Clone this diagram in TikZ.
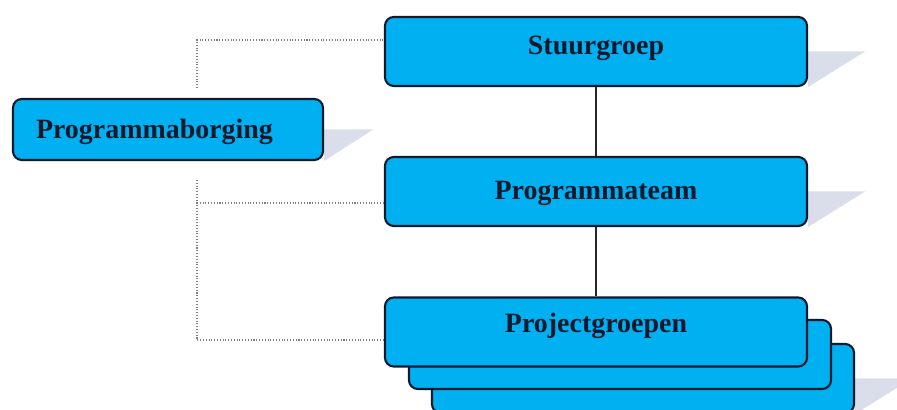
\documentclass[tikz,border=0pt]{standalone}
\usepackage{fontspec}
\setmainfont{Liberation Serif}
\usetikzlibrary{backgrounds}

\definecolor{boxblue}{RGB}{0,176,240}
\definecolor{boxline}{RGB}{15,25,45}
\definecolor{shadowgray}{RGB}{218,222,234}

\tikzset{
  orgbox/.style={draw=boxline, line width=1.2pt, fill=boxblue, rounded corners=5pt,
    minimum width=8.44cm, minimum height=1.38cm, text height=0.37cm,
    font=\fontsize{15.9}{18}\selectfont\bfseries, text=boxline},
  dotline/.style={gray, densely dotted, line width=0.6pt},
  solidline/.style={draw=gray!30!black, line width=1pt},
}

\begin{document}
\begin{tikzpicture}
    \useasboundingbox (0,0) rectangle (17.94,8.2);

    % Boxes
    \node[orgbox, text depth=0.26cm] (stuur) at (11.92,7.17) {Stuurgroep};
    \node[orgbox, text depth=0.04cm] (team) at (11.92,4.37) {Programmateam};
    \node[orgbox] (proj3) at (12.86,0.63) {};
    \node[orgbox] (proj2) at (12.40,1.11) {};
    \node[orgbox, text depth=0.36cm] (proj) at (11.92,1.56) {Projectgroepen};
    \node[orgbox, minimum width=6.2cm, minimum height=1.22cm, text depth=0cm,
      inner xsep=0.46cm, text width=5.28cm, align=left] (borging) at (3.36,5.61) {Programmaborging};

    % Shadows
    \begin{scope}[on background layer]
        \foreach \b/\w in {stuur/1.14, team/1.14, borging/0.98, proj3/1.14}
        \fill[shadowgray] (\b.east) -- ++(\w,0) -- (\b.south east) -- cycle;
    \end{scope}

    % Solid lines
    \draw[solidline] (stuur) -- (team);
    \draw[solidline] (team) -- (proj);

    % Dotted lines
    \coordinate (topend) at (3.94,6.44);
    \coordinate (top) at (3.94,7.40);
    \coordinate (low) at (3.94,4.60);
    \coordinate (mid) at (3.94,4.14);
    \coordinate (bot) at (3.94,1.40);
    \draw[dotline] (topend) -- (top) -- (top -| stuur.west);
    \draw[dotline] (low) -- (bot) -- (bot -| proj.west);
    \draw[dotline] (mid) -- (mid -| team.west);
\end{tikzpicture}
\end{document}
